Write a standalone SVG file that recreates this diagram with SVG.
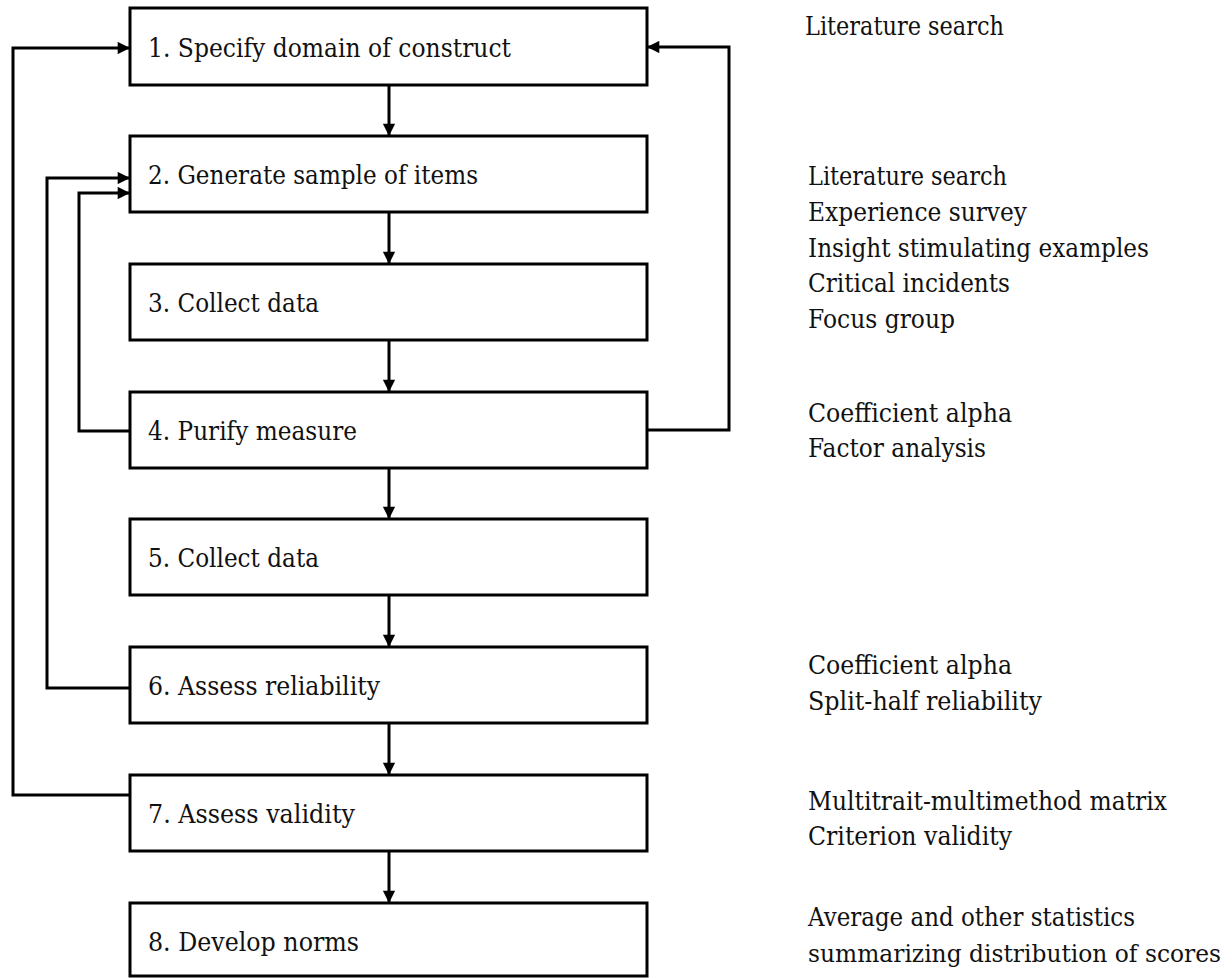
<svg xmlns="http://www.w3.org/2000/svg" width="1232" height="978" viewBox="0 0 1232 978">
  <defs>
    <marker id="arrow" viewBox="0 0 10 10" refX="10" refY="5" markerWidth="4.4" markerHeight="4.1" markerUnits="strokeWidth" orient="auto">
      <path d="M0,0 L10,5 L0,10 z" fill="#000"/>
    </marker>
    <style>
      .box { fill: #fff; stroke: #000; stroke-width: 3; }
      .label, .note { font-family: 'DejaVu Serif', serif; font-size: 26px; fill: #111; }
      .note.long { font-size: 23.6px; }
      .link { fill: none; stroke: #000; stroke-width: 3; }
      .arrow { marker-end: url(#arrow); }
    </style>
  </defs>
  <rect width="1232" height="978" fill="#fff"/>

  <!-- connectors -->
  <g id="connectors">
    <!-- main downward flow -->
    <path class="link arrow" d="M389,85 V136"/>
    <path class="link arrow" d="M389,212 V264"/>
    <path class="link arrow" d="M389,340 V392"/>
    <path class="link arrow" d="M389,468 V519"/>
    <path class="link arrow" d="M389,595 V647"/>
    <path class="link arrow" d="M389,723 V775"/>
    <path class="link arrow" d="M389,851 V903"/>
    <!-- feedback loops -->
    <path class="link arrow" d="M130,431 H79 V193 H130"/>
    <path class="link arrow" d="M130,688 H47 V178 H130"/>
    <path class="link arrow" d="M130,795 H13 V48 H130"/>
    <path class="link arrow" d="M647,430 H729 V47 H647"/>
  </g>

  <!-- process steps -->
  <g id="step1"><rect class="box" x="130" y="8" width="517" height="77"/><text class="label" x="148" y="57" textLength="363" lengthAdjust="spacingAndGlyphs">1. Specify domain of construct</text></g>
  <g id="step2"><rect class="box" x="130" y="136" width="517" height="76"/><text class="label" x="148" y="184" textLength="330" lengthAdjust="spacingAndGlyphs">2. Generate sample of items</text></g>
  <g id="step3"><rect class="box" x="130" y="264" width="517" height="76"/><text class="label" x="148" y="312" textLength="171" lengthAdjust="spacingAndGlyphs">3. Collect data</text></g>
  <g id="step4"><rect class="box" x="130" y="392" width="517" height="76"/><text class="label" x="148" y="440" textLength="209" lengthAdjust="spacingAndGlyphs">4. Purify measure</text></g>
  <g id="step5"><rect class="box" x="130" y="519" width="517" height="76"/><text class="label" x="148" y="567" textLength="171" lengthAdjust="spacingAndGlyphs">5. Collect data</text></g>
  <g id="step6"><rect class="box" x="130" y="647" width="517" height="76"/><text class="label" x="148" y="695" textLength="232" lengthAdjust="spacingAndGlyphs">6. Assess reliability</text></g>
  <g id="step7"><rect class="box" x="130" y="775" width="517" height="76"/><text class="label" x="148" y="823" textLength="207" lengthAdjust="spacingAndGlyphs">7. Assess validity</text></g>
  <g id="step8"><rect class="box" x="130" y="903" width="517" height="73"/><text class="label" x="148" y="951" textLength="211" lengthAdjust="spacingAndGlyphs">8. Develop norms</text></g>

  <!-- techniques for each step -->
  <g id="notes">
    <text class="note" x="805" y="35" textLength="199" lengthAdjust="spacingAndGlyphs">Literature search</text>
    <text class="note" x="808" y="185" textLength="199" lengthAdjust="spacingAndGlyphs">Literature search</text>
    <text class="note" x="808" y="221" textLength="219" lengthAdjust="spacingAndGlyphs">Experience survey</text>
    <text class="note" x="808" y="257" textLength="341" lengthAdjust="spacingAndGlyphs">Insight stimulating examples</text>
    <text class="note" x="808" y="292" textLength="202" lengthAdjust="spacingAndGlyphs">Critical incidents</text>
    <text class="note" x="808" y="328" textLength="147" lengthAdjust="spacingAndGlyphs">Focus group</text>
    <text class="note" x="808" y="422" textLength="204" lengthAdjust="spacingAndGlyphs">Coefficient alpha</text>
    <text class="note" x="808" y="457" textLength="178" lengthAdjust="spacingAndGlyphs">Factor analysis</text>
    <text class="note" x="808" y="674" textLength="204" lengthAdjust="spacingAndGlyphs">Coefficient alpha</text>
    <text class="note" x="808" y="710" textLength="234" lengthAdjust="spacingAndGlyphs">Split-half reliability</text>
    <text class="note" x="808" y="810" textLength="359" lengthAdjust="spacingAndGlyphs">Multitrait-multimethod matrix</text>
    <text class="note" x="808" y="845" textLength="204" lengthAdjust="spacingAndGlyphs">Criterion validity</text>
    <text class="note" x="808" y="926" textLength="327" lengthAdjust="spacingAndGlyphs">Average and other statistics</text>
    <text class="note long" x="808" y="962" textLength="413" lengthAdjust="spacingAndGlyphs">summarizing distribution of scores</text>
  </g>
</svg>
